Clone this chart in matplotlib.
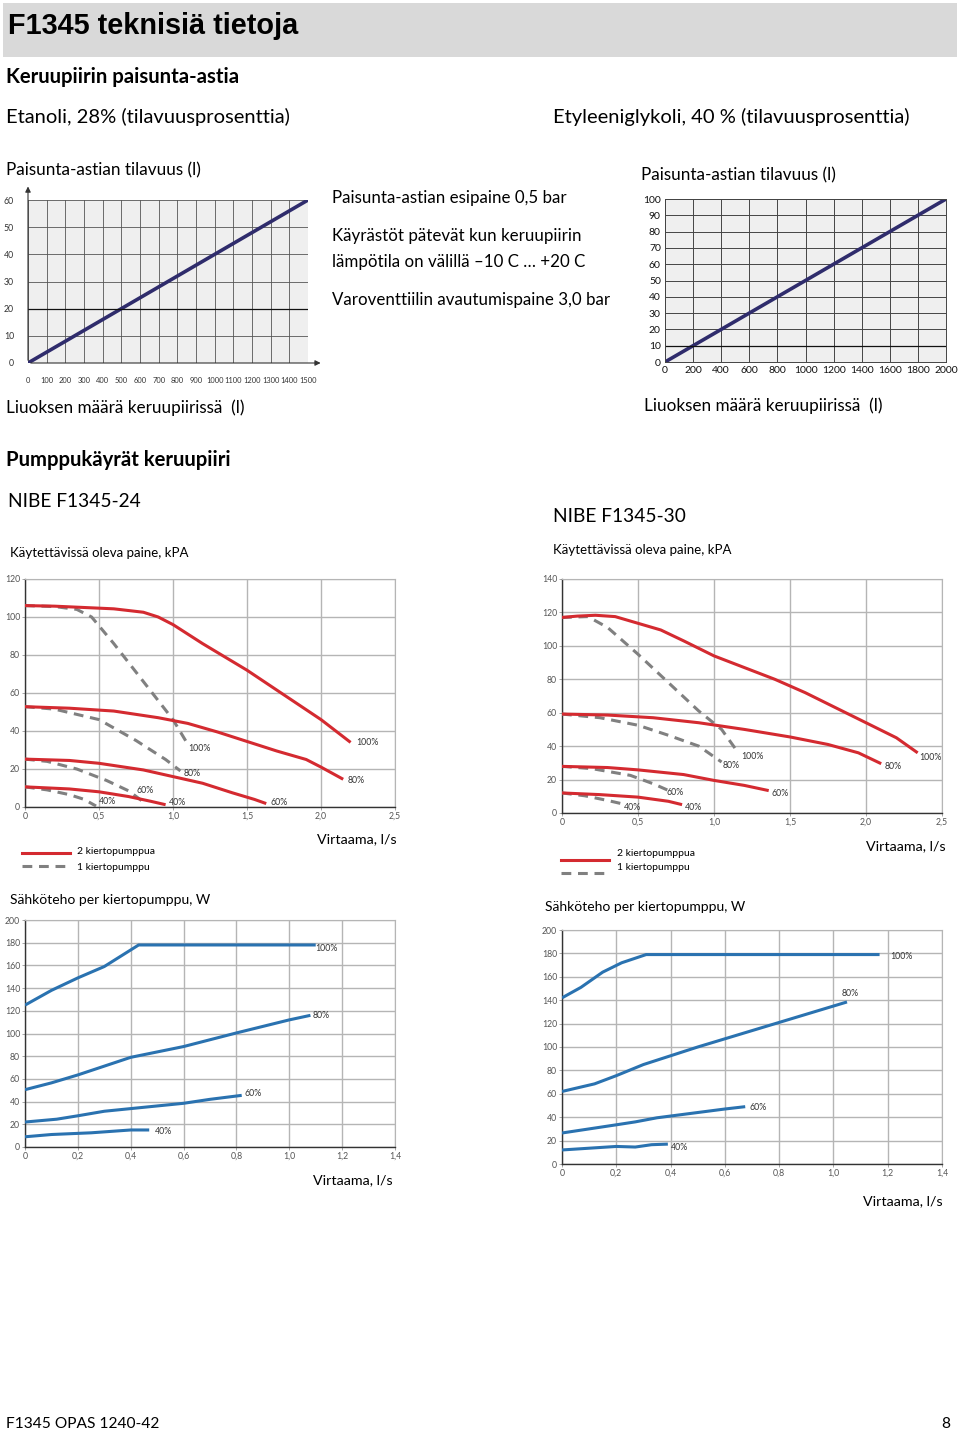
import numpy as np
import matplotlib
matplotlib.use("Agg")
import matplotlib.pyplot as plt
from matplotlib.patches import Rectangle
from matplotlib.lines import Line2D

plt.rcParams['font.family'] = ['Lato', 'DejaVu Sans']

W, H = 960, 1433

# --- expansion vessel charts ---
vol_eth_x = [0, 1500]
vol_eth_y = [0, 60]
vol_eth_xticks = list(range(0, 1501, 100))
vol_eth_yticks = list(range(0, 61, 10))

vol_gly_x = [0, 2000]
vol_gly_y = [0, 100]
vol_gly_xticks = list(range(0, 2001, 200))
vol_gly_yticks = list(range(0, 101, 10))

# --- pump curves NIBE F1345-24 (kPa vs l/s) ---
p24_red = {
    '100%': ([0, 0.2, 0.4, 0.6, 0.8, 0.9, 1.0, 1.2, 1.5, 1.75, 2.0, 2.2],
             [106, 105.7, 105, 104.3, 102.5, 100, 96, 86, 72, 59, 46, 34]),
    '80%': ([0, 0.3, 0.6, 0.9, 1.1, 1.3, 1.5, 1.7, 1.9, 2.0, 2.15],
            [52.8, 52, 50.5, 47, 44, 39.5, 34.5, 29.5, 25, 21, 14.6]),
    '60%': ([0, 0.3, 0.5, 0.8, 1.0, 1.2, 1.4, 1.55, 1.63],
            [25.2, 24.5, 23, 19.5, 16, 12.5, 7.5, 4, 1.8]),
    '40%': ([0, 0.3, 0.5, 0.7, 0.85, 0.95],
            [10.6, 9.5, 8, 5.5, 3, 1.2]),
}
p24_gray = {
    '100%': ([0, 0.2, 0.35, 0.45, 0.6, 0.8, 1.0, 1.1],
             [106, 105.5, 104, 100, 86, 66, 46, 33]),
    '80%': ([0, 0.2, 0.5, 0.75, 0.95, 1.05],
            [52.8, 51.5, 46, 35, 25, 19]),
    '60%': ([0, 0.15, 0.35, 0.55, 0.7, 0.82],
            [25.2, 24, 20, 14, 8.5, 1.5]),
    '40%': ([0, 0.15, 0.3, 0.4, 0.48],
            [10.6, 9, 6.5, 4, 0.5]),
}
p24_red_lab = {'100%': (2.24, 34), '80%': (2.18, 14), '60%': (1.66, 2.5), '40%': (0.97, 2.5)}
p24_gray_lab = {'100%': (1.1, 31), '80%': (1.07, 17.5), '60%': (0.75, 8.5), '40%': (0.5, 3)}

# --- pump curves NIBE F1345-30 ---
p30_red = {
    '100%': ([0, 0.1, 0.22, 0.35, 0.5, 0.65, 0.8, 1.0, 1.2, 1.4, 1.6, 1.8, 2.0, 2.2, 2.34],
             [117, 117.8, 118.3, 117.5, 113.5, 109.5, 103, 94, 87, 80, 72, 63, 54, 45, 36]),
    '80%': ([0, 0.3, 0.6, 0.9, 1.2, 1.5, 1.75, 1.95, 2.1],
            [59.2, 58.6, 57, 54, 50, 45.5, 41, 36, 29.5]),
    '60%': ([0, 0.3, 0.5, 0.8, 1.0, 1.2, 1.36],
            [27.9, 27.2, 25.8, 23, 19.5, 16.5, 13.4]),
    '40%': ([0, 0.25, 0.5, 0.7, 0.79],
            [12, 11, 9.5, 7, 5]),
}
p30_gray = {
    '100%': ([0, 0.17, 0.3, 0.5, 0.7, 0.9, 1.05, 1.16],
             [117, 117.5, 111, 95, 78, 61, 50, 36]),
    '80%': ([0, 0.25, 0.5, 0.7, 0.9, 1.05],
            [59.2, 57, 52.5, 46.5, 40, 30.5]),
    '60%': ([0, 0.2, 0.45, 0.6, 0.7],
            [27.9, 26.5, 22.5, 17.5, 13.5]),
    '40%': ([0, 0.15, 0.3, 0.42],
            [12, 10.3, 7.5, 5]),
}
p30_red_lab = {'100%': (2.35, 33), '80%': (2.12, 28), '60%': (1.38, 11.5), '40%': (0.81, 3.5)}
p30_gray_lab = {'100%': (1.18, 34), '80%': (1.06, 28.5), '60%': (0.69, 12), '40%': (0.41, 3.5)}

# --- power per pump (W vs l/s) ---
pw24 = {
    '100%': ([0, 0.1, 0.2, 0.3, 0.43, 0.6, 0.8, 1.0, 1.1],
             [125, 138, 149, 159, 178, 178, 178, 178, 178]),
    '80%': ([0, 0.1, 0.2, 0.4, 0.6, 0.8, 1.0, 1.08],
            [50.5, 56.5, 63.5, 79, 88.5, 100.5, 112, 116]),
    '60%': ([0, 0.12, 0.2, 0.3, 0.45, 0.6, 0.7, 0.82],
            [22, 24.5, 27.5, 31.5, 35, 38.5, 42, 45.5]),
    '40%': ([0, 0.1, 0.25, 0.4, 0.47],
            [9, 11, 12.5, 15, 15]),
}
pw24_lab = {'100%': (1.1, 175), '80%': (1.09, 116), '60%': (0.83, 47), '40%': (0.49, 13.5)}

pw30 = {
    '100%': ([0, 0.07, 0.15, 0.22, 0.31, 0.5, 0.8, 1.0, 1.17],
             [142, 151, 164, 172, 179, 179, 179, 179, 179]),
    '80%': ([0, 0.12, 0.2, 0.3, 0.4, 0.5, 0.6, 0.7, 0.8, 0.9, 1.05],
            [62, 68.5, 75.5, 85, 92.5, 100, 107, 114, 121, 128, 138.5]),
    '60%': ([0, 0.1, 0.2, 0.27, 0.35, 0.45, 0.6, 0.675],
            [26.5, 30, 33.5, 36, 39.5, 42.5, 47, 49]),
    '40%': ([0, 0.1, 0.2, 0.27, 0.33, 0.39],
            [12, 13.5, 15, 14.5, 16.5, 17]),
}
pw30_lab = {'100%': (1.21, 177), '80%': (1.03, 146), '60%': (0.69, 48.5), '40%': (0.4, 14)}

RED = '#d42a30'
GRAY = '#808080'
BLUE = '#2a72b0'
NAVY = '#2f2c6c'


def px_axes(l, t, r, b):
    return fig.add_axes([l / W, 1 - b / H, (r - l) / W, (b - t) / H])


def txt(x, y, s, **kw):
    kw.setdefault('va', 'center')
    kw.setdefault('ha', 'left')
    fig.text(x / W, 1 - y / H, s, **kw)


def fig_line(x1, x2, y, **kw):
    fig.add_artist(Line2D([x1 / W, x2 / W], [1 - y / H, 1 - y / H],
                          transform=fig.transFigure, **kw))


fig = plt.figure(figsize=(9.6, 14.33), dpi=100)

# header band
fig.add_artist(Rectangle((3 / W, 1 - 57 / H), 954 / W, 54 / H, transform=fig.transFigure,
                         facecolor='#d9d9d9', edgecolor='none'))
txt(8, 26, 'F1345 teknisiä tietoja', fontsize=20.8, fontweight='bold',
    family=['Liberation Sans', 'DejaVu Sans'])

txt(6, 77, 'Keruupiirin paisunta-astia', fontsize=14.6, fontweight='bold')
txt(6, 117, 'Etanoli, 28% (tilavuusprosenttia)', fontsize=14.5)
txt(553, 117, 'Etyleeniglykoli, 40 % (tilavuusprosenttia)', fontsize=14.5)

txt(6, 170, 'Paisunta-astian tilavuus (l)', fontsize=12.3)
txt(641, 175, 'Paisunta-astian tilavuus (l)', fontsize=12.3)
txt(6, 408, 'Liuoksen määrä keruupiirissä  (l)', fontsize=12.3)
txt(644, 406, 'Liuoksen määrä keruupiirissä  (l)', fontsize=12.3)

txt(332, 198, 'Paisunta-astian esipaine 0,5 bar', fontsize=12.2)
txt(332, 236, 'Käyrästöt pätevät kun keruupiirin', fontsize=12.2)
txt(332, 262, 'lämpötila on välillä –10 C … +20 C', fontsize=12.2)
txt(332, 300, 'Varoventtiilin avautumispaine 3,0 bar', fontsize=12.2)

# volume chart, ethanol
ax = px_axes(28, 200, 308, 363)
ax.set_facecolor('#efefef')
ax.plot(vol_eth_x, vol_eth_y, color=NAVY, lw=2.6, solid_capstyle='butt')
ax.set_xlim(0, 1500)
ax.set_ylim(0, 60)
ax.set_xticks(vol_eth_xticks)
ax.set_yticks(vol_eth_yticks)
ax.grid(True, color='#555555', lw=0.6)
ax.axhline(20, color='#111111', lw=0.9)
for s in ax.spines.values():
    s.set_visible(False)
ax.tick_params(length=0, labelsize=5.4, labelcolor='#333333', pad=10)
ax.tick_params(axis='y', labelsize=6.3)
ax.annotate('', xy=(1.055, 0), xytext=(0, 0), xycoords='axes fraction',
            arrowprops=dict(arrowstyle='-|>', color='#333333', lw=0.8, mutation_scale=8))
ax.annotate('', xy=(0, 1.1), xytext=(0, 0), xycoords='axes fraction',
            arrowprops=dict(arrowstyle='-|>', color='#333333', lw=0.8, mutation_scale=8))

# volume chart, ethylene glycol
ax = px_axes(665, 199, 946, 362)
ax.set_facecolor('#efefef')
ax.plot(vol_gly_x, vol_gly_y, color=NAVY, lw=2.6, solid_capstyle='butt')
ax.set_xlim(0, 2000)
ax.set_ylim(0, 100)
ax.set_xticks(vol_gly_xticks)
ax.set_yticks(vol_gly_yticks)
ax.grid(True, color='#444444', lw=0.7)
ax.axhline(10, color='#111111', lw=0.9)
for s in ax.spines.values():
    s.set_color('#444444')
    s.set_linewidth(0.7)
ax.tick_params(length=0, labelsize=7.5, labelcolor='#111111', pad=3)

# pump section
txt(6, 460, 'Pumppukäyrät keruupiiri', fontsize=14.6, fontweight='bold')
txt(8, 501, 'NIBE F1345-24', fontsize=13.8)
txt(553, 517, 'NIBE F1345-30', fontsize=13.8)
txt(10, 553, 'Käytettävissä oleva paine, kPA', fontsize=9.5)
txt(553, 550, 'Käytettävissä oleva paine, kPA', fontsize=9.5)


def style_small(ax, xmax, ymax, xstep, ystep):
    ax.set_xlim(0, xmax)
    ax.set_ylim(0, ymax)
    xt = np.round(np.arange(0, xmax + 1e-9, xstep), 2)
    yt = np.arange(0, ymax + 1, ystep)
    ax.set_xticks(xt)
    ax.set_yticks(yt)
    ax.set_xticklabels([('%.1f' % v).replace('.', ',') if v != 0 else '0' for v in xt])
    ax.set_yticklabels([str(int(v)) for v in yt])
    ax.grid(True, color='#b5b5b5', lw=1.0)
    ax.set_axisbelow(True)
    for k in ('top', 'right'):
        ax.spines[k].set_color('#b5b5b5')
    for k in ('left', 'bottom'):
        ax.spines[k].set_color('#333333')
        ax.spines[k].set_linewidth(1.0)
    ax.tick_params(length=2, width=0.6, color='#999999', labelsize=6.3,
                   labelcolor='#555555', pad=1.5)


def pump_chart(ax, red, gray, red_lab, gray_lab, ymax):
    for k, (x, y) in gray.items():
        ax.plot(x, y, color=GRAY, lw=2.2, dashes=(3.2, 2.2), zorder=3)
    for k, (x, y) in red.items():
        ax.plot(x, y, color=RED, lw=2.2, zorder=4, solid_capstyle='butt')
    for k, (x, y) in red_lab.items():
        ax.text(x, y, k, fontsize=6.3, color='#333333', va='center', ha='left', zorder=5)
    for k, (x, y) in gray_lab.items():
        ax.text(x, y, k, fontsize=6.3, color='#333333', va='center', ha='left', zorder=5)
    style_small(ax, 2.5, ymax, 0.5, 20)


ax = px_axes(25, 579, 395, 807)
pump_chart(ax, p24_red, p24_gray, p24_red_lab, p24_gray_lab, 120)

ax = px_axes(562, 579, 942, 813)
pump_chart(ax, p30_red, p30_gray, p30_red_lab, p30_gray_lab, 140)

# legends
fig_line(22, 70, 853, color=RED, lw=2.2)
fig_line(22, 70, 866, color=GRAY, lw=2.2, dashes=(3.2, 2.2))
txt(77, 852, '2 kiertopumppua', fontsize=7.5)
txt(77, 867, '1 kiertopumppu', fontsize=7.5)
fig_line(561, 609, 860, color=RED, lw=2.2)
fig_line(561, 609, 873, color=GRAY, lw=2.2, dashes=(3.2, 2.2))
txt(617, 853, '2 kiertopumppua', fontsize=7.5)
txt(617, 868, '1 kiertopumppu', fontsize=7.5)

txt(317, 839, 'Virtaama, l/s', fontsize=10.3)
txt(866, 846, 'Virtaama, l/s', fontsize=10.3)

txt(10, 900, 'Sähköteho per kiertopumppu, W', fontsize=10)
txt(545, 907, 'Sähköteho per kiertopumppu, W', fontsize=10)


def power_chart(ax, data, labels):
    for k, (x, y) in data.items():
        ax.plot(x, y, color=BLUE, lw=2.2, zorder=4, solid_capstyle='butt')
    for k, (x, y) in labels.items():
        ax.text(x, y, k, fontsize=6.3, color='#333333', va='center', ha='left', zorder=5)
    style_small(ax, 1.4, 200, 0.2, 20)


ax = px_axes(25, 920, 395, 1147)
power_chart(ax, pw24, pw24_lab)
ax = px_axes(562, 930, 942, 1164)
power_chart(ax, pw30, pw30_lab)

txt(313, 1180, 'Virtaama, l/s', fontsize=10.3)
txt(863, 1201, 'Virtaama, l/s', fontsize=10.3)

# footer
txt(6, 1424, 'F1345 OPAS 1240-42', fontsize=11.2)
txt(950, 1424, '8', fontsize=11.2, ha='right')

fig.savefig('out.png', dpi=100)
